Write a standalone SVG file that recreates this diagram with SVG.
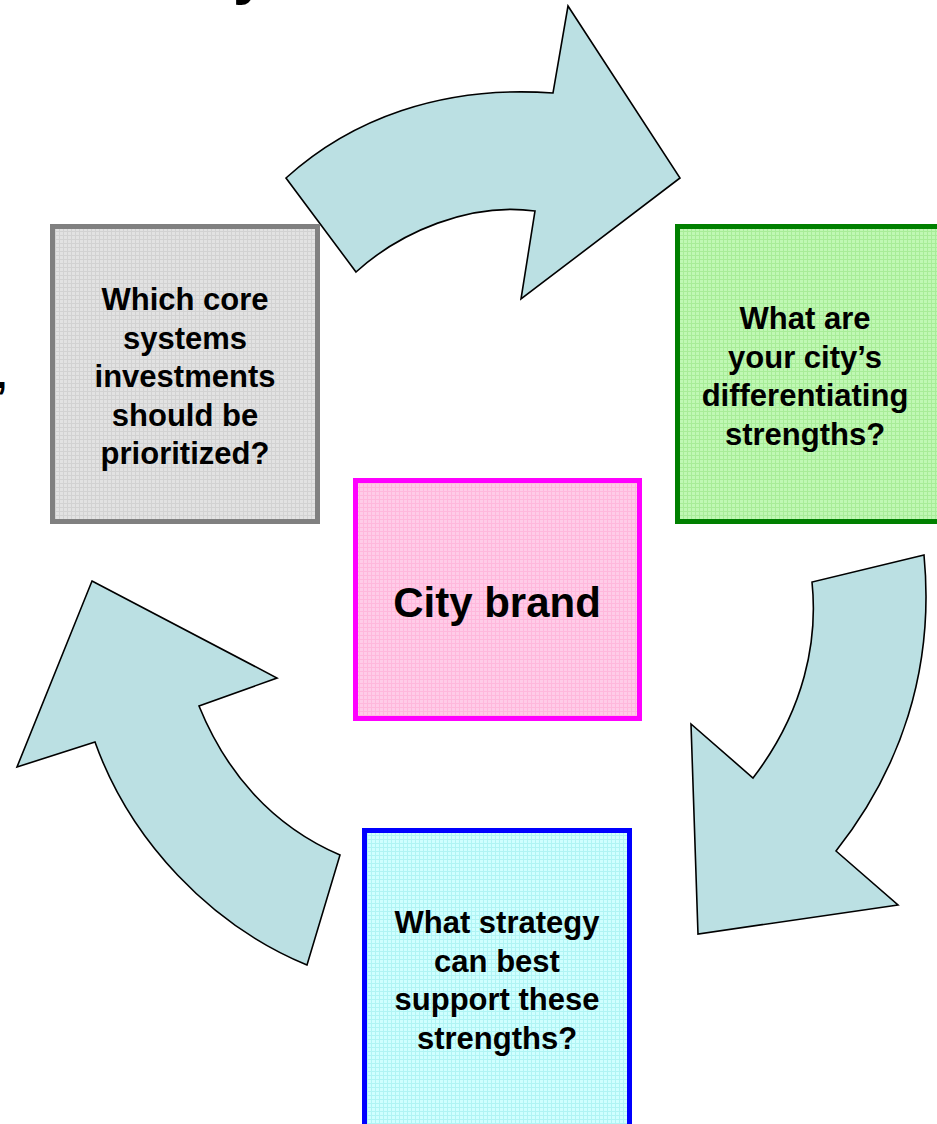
<svg xmlns="http://www.w3.org/2000/svg" width="937" height="1124" viewBox="0 0 937 1124">
<style>
.box{stroke-width:5}
.t{font-family:"Liberation Sans",Arial,sans-serif;font-weight:bold;fill:#000;text-anchor:middle}
.q{font-size:31px}
.arrow{fill:#bbe0e3;stroke:#000;stroke-width:1.6;stroke-linejoin:miter}
</style>
<defs>
<pattern id="pGray" width="4" height="4" patternUnits="userSpaceOnUse"><rect width="4" height="4" fill="#d2d2d2"/><rect width="3" height="3" fill="#e2e2e2"/></pattern>
<pattern id="pGreen" width="4" height="4" patternUnits="userSpaceOnUse"><rect width="4" height="4" fill="#a8ec98"/><rect width="3" height="3" fill="#c0f8b4"/></pattern>
<pattern id="pPink" width="4" height="4" patternUnits="userSpaceOnUse"><rect width="4" height="4" fill="#ffb8dc"/><rect width="3" height="3" fill="#ffcce8"/></pattern>
<pattern id="pCyan" width="4" height="4" patternUnits="userSpaceOnUse"><rect width="4" height="4" fill="#b0f4f4"/><rect width="3" height="3" fill="#d0ffff"/></pattern>
</defs>
<rect width="937" height="1124" fill="#fff"/>
<g id="fragments">
<text class="t" x="233" y="-7" font-size="60" style="text-anchor:start">y</text>
<text class="t" x="-4" y="388" font-size="40" style="text-anchor:start">,</text>
</g>
<g id="connectors">
<path class="arrow" d="M286,178 C350,120 440,85 553,93 L568,6 L680,178 L521,299 L535,211 C470,202 400,232 356,272 Z"/>
<path class="arrow" d="M924,555 L812,582 C818,640 805,710 753,778 L691,724 L698,934 L898,905 L836,851 C900,770 935,670 924,555 Z"/>
<path class="arrow" d="M92,581 L277,678 L199,706 C225,770 270,825 340,855 L307,965 C210,925 130,840 95,742 L17,767 Z"/>
</g>
<g id="node-core-systems">
<rect class="box" x="52.5" y="226.5" width="265" height="295" fill="url(#pGray)" stroke="#808080"/>
<text class="t q" x="185"><tspan x="185" y="310">Which core</tspan><tspan x="185" y="348.5">systems</tspan><tspan x="185" y="387">investments</tspan><tspan x="185" y="425.5">should be</tspan><tspan x="185" y="464">prioritized?</tspan></text>
</g>
<g id="node-strengths">
<rect class="box" x="677.5" y="226.5" width="275" height="295" fill="url(#pGreen)" stroke="#008000"/>
<text class="t q" x="805"><tspan x="805" y="329">What are</tspan><tspan x="805" y="367.5">your city’s</tspan><tspan x="805" y="406">differentiating</tspan><tspan x="805" y="444.5">strengths?</tspan></text>
</g>
<g id="node-city-brand">
<rect class="box" x="355.5" y="480.5" width="284" height="238" fill="url(#pPink)" stroke="#ff00ff"/>
<text class="t" x="497" y="617" font-size="42">City brand</text>
</g>
<g id="node-strategy">
<rect class="box" x="364.5" y="830.5" width="265" height="310" fill="url(#pCyan)" stroke="#0000ff"/>
<text class="t q" x="497"><tspan x="497" y="933">What strategy</tspan><tspan x="497" y="971.5">can best</tspan><tspan x="497" y="1010">support these</tspan><tspan x="497" y="1048.5">strengths?</tspan></text>
</g>
</svg>
